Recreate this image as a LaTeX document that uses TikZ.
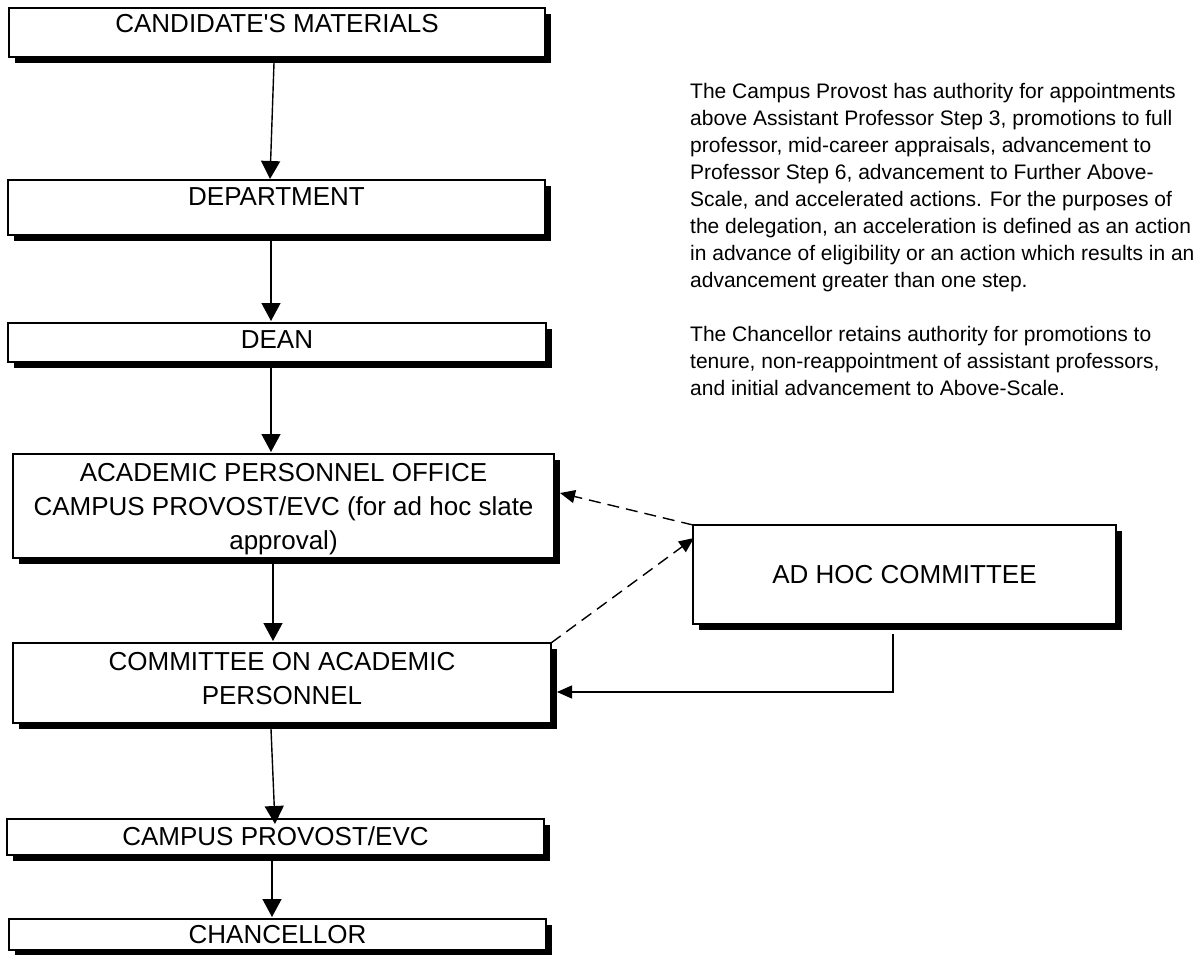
\documentclass[tikz,border=0pt]{standalone}
\usepackage{fontspec}
\setmainfont{Liberation Sans}
\usetikzlibrary{arrows.meta,shadows,calc}
\tikzset{
  flowbox/.style={draw=black, line width=1.1pt, fill=white, inner sep=0pt, outer sep=0pt,
    anchor=north west, font=\fontsize{26pt}{34pt}\selectfont,
    drop shadow={shadow xshift=6pt, shadow yshift=-6pt, fill=black, opacity=1}},
  vflow/.style={line width=1.4pt, -{Triangle[width=19pt,length=18pt]}},
  sflow/.style={line width=1.4pt, -{Triangle[width=13pt,length=15pt]}},
  dflow/.style={sflow, dash pattern=on 12pt off 7pt},
  notetext/.style={anchor=north west, inner sep=0pt, align=left,
    font=\fontsize{21pt}{27pt}\selectfont}
}
\newcommand\bxt[4]{\parbox[c][#2pt][t]{#1pt}{\centering\vspace*{#3pt}#4\par}}
\newcommand\bxc[3]{\parbox[c][#2pt][c]{#1pt}{\centering #3\par}}
\begin{document}
\begin{tikzpicture}[x=1pt,y=-1pt]
\useasboundingbox (0,0) rectangle (1197,955);
\node[flowbox] (b1) at (9,8)   {\bxt{536}{49}{6}{CANDIDATE\textquotesingle S MATERIALS}};
\node[flowbox] (b2) at (8,180) {\bxt{537}{55}{8}{DEPARTMENT}};
\node[flowbox] (b3) at (8,323) {\bxt{538}{39}{8}{DEAN}};
\node[flowbox] (b4) at (13,454) {\bxt{541}{104}{9}{ACADEMIC PERSONNEL OFFICE\\CAMPUS PROVOST/EVC (for ad hoc slate\\approval)}};
\node[flowbox] (b5) at (13,643) {\bxt{538}{80}{9}{COMMITTEE ON ACADEMIC\\PERSONNEL}};
\node[flowbox] (b6) at (7,819) {\bxt{537}{36}{8}{CAMPUS PROVOST/EVC}};
\node[flowbox] (b7) at (9,919) {\bxt{537}{31}{6}{CHANCELLOR}};
\node[flowbox] (adhoc) at (693,525) {\bxc{423}{99}{AD HOC COMMITTEE}};

\node[notetext] (note) at (690,83) {The Campus Provost has authority for appointments\\
above Assistant Professor Step 3, promotions to full\\
professor, mid-career appraisals, advancement to\\
Professor Step 6, advancement to Further Above-\\
Scale, and accelerated actions. For the purposes of\\
the delegation, an acceleration is defined as an action\\
in advance of eligibility or an action which results in an\\
advancement greater than one step.\\[27pt]
The Chancellor retains authority for promotions to\\
tenure, non-reappointment of assistant professors,\\
and initial advancement to Above-Scale.};

\draw[vflow] ($(b1.south)+(-3,6)$) -- ($(b2.north)+(-6.5,-1)$);
\draw[vflow] ($(b2.south)+(-5.5,6)$) -- ($(b3.north)+(-6,-2)$);
\draw[vflow] ($(b3.south)+(-6,6)$) -- ($(b4.north)+(-12.5,-2)$);
\draw[vflow] ($(b4.south)+(-10.5,6)$) -- ($(b5.north)+(-9,-2)$);
\draw[vflow] ($(b5.south)+(-11,6)$) -- ($(b6.north)+(-0.5,5)$);
\draw[vflow] ($(b6.south)+(-3.5,6)$) -- ($(b7.north)+(-5.5,-2)$);

\draw[dflow] (adhoc.north west) -- ($(b4.east)+(6,-13)$);
\draw[dflow] (b5.north east) -- ($(adhoc.north west)+(1,13)$);
\coordinate (fb) at ($(adhoc.south)+(-11.5,10)$);
\draw[sflow] (fb) |- ($(b5.east)+(6,9)$);
\end{tikzpicture}
\end{document}
